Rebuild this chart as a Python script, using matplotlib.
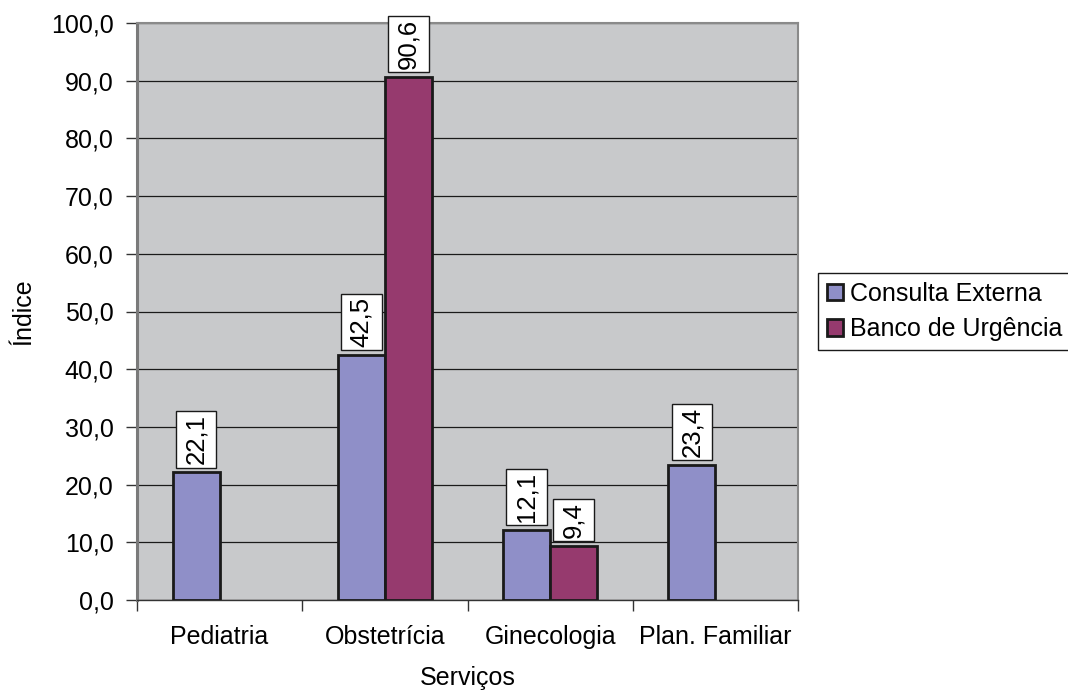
import numpy as np
import matplotlib
matplotlib.use('Agg')
import matplotlib.pyplot as plt
from matplotlib.path import Path
from matplotlib.ticker import FuncFormatter, FixedLocator

plt.rcParams['font.family'] = ['Liberation Sans', 'DejaVu Sans']

# Data
servicos = ['Pediatria', 'Obstetrícia', 'Ginecologia', 'Plan. Familiar']
consulta_externa = [22.1, 42.5, 12.1, 23.4]
banco_urgencia = [np.nan, 90.6, 9.4, np.nan]
series_names = ['Consulta Externa', 'Banco de Urgência']

COLOR_CE = '#8F8FC8'
COLOR_BU = '#963A6E'


def label_box(x0, y0, width, height, mutation_size):
    # square box, short pad along the text, wide pad across it
    px = 0.12 * mutation_size
    py = 0.32 * mutation_size
    x0, y0 = x0 - px, y0 - py
    x1, y1 = x0 + width + 2 * px, y0 + height + 2 * py
    return Path([(x0, y0), (x1, y0), (x1, y1), (x0, y1), (x0, y0)],
                closed=True)


fig = plt.figure(figsize=(10.68, 6.9), dpi=100)
ax = fig.add_axes([137 / 1068, 1 - 600 / 690, 661 / 1068, 577 / 690])
ax.set_facecolor('#C8C9CB')

x = np.arange(len(servicos))
width = 0.285

bars1 = ax.bar(x - width / 2, consulta_externa, width, color=COLOR_CE,
               edgecolor='#1a1a1a', linewidth=2, label=series_names[0], zorder=3)
bars2 = ax.bar(x + width / 2, banco_urgencia, width, color=COLOR_BU,
               edgecolor='#1a1a1a', linewidth=2, label=series_names[1], zorder=3)

# value labels: rotated, in white boxes above the bars
for bars, vals in [(bars1, consulta_externa), (bars2, banco_urgencia)]:
    for bar, val in zip(bars, vals):
        if np.isnan(val):
            continue
        ax.annotate(f'{val:.1f}'.replace('.', ','),
                    xy=(bar.get_x() + bar.get_width() / 2, val),
                    xytext=(0, 8), textcoords='offset pixels',
                    rotation=90, ha='center', va='bottom', fontsize=18.5,
                    bbox=dict(boxstyle=label_box, facecolor='white',
                              edgecolor='#1a1a1a', linewidth=1),
                    zorder=5, annotation_clip=False)

ax.set_xlim(-0.5, len(servicos) - 0.5)
ax.set_ylim(0, 100)
ax.set_yticks(np.arange(0, 101, 10))
ax.yaxis.set_major_formatter(FuncFormatter(lambda v, p: f'{v:.1f}'.replace('.', ',')))
ax.grid(True, axis='y', color='#1a1a1a', linewidth=0.9, zorder=1)
ax.set_axisbelow(True)

# ticks at group boundaries, labels at group centres
ax.xaxis.set_major_locator(FixedLocator(np.arange(-0.5, len(servicos), 1.0)))
ax.xaxis.set_minor_locator(FixedLocator(x))
ax.set_xticklabels([])
ax.set_xticklabels(servicos, minor=True)
ax.tick_params(axis='x', which='major', length=8, width=1, color='#333333')
ax.tick_params(axis='x', which='minor', length=0, pad=18, labelsize=18)
ax.tick_params(axis='y', length=8, width=1, color='#333333', pad=9, labelsize=18)

for side in ['top', 'right']:
    ax.spines[side].set_color('#8a8a8a')
    ax.spines[side].set_linewidth(1.5)
ax.spines['left'].set_color('#7a7a7a')
ax.spines['left'].set_linewidth(2.2)
ax.spines['bottom'].set_color('#333333')
ax.spines['bottom'].set_linewidth(1)

ax.set_ylabel('Índice', fontsize=18, labelpad=11)
ax.set_xlabel('Serviços', fontsize=18, labelpad=12)

fig.legend(loc='upper left', bbox_to_anchor=(818 / 1068, 1 - 273 / 690),
           fontsize=18, frameon=True, fancybox=False, edgecolor='#1a1a1a',
           framealpha=1, borderpad=0.35, handlelength=0.65, handleheight=0.65,
           handletextpad=0.3, labelspacing=0.45, borderaxespad=0)

plt.savefig('out.png', dpi=100)
